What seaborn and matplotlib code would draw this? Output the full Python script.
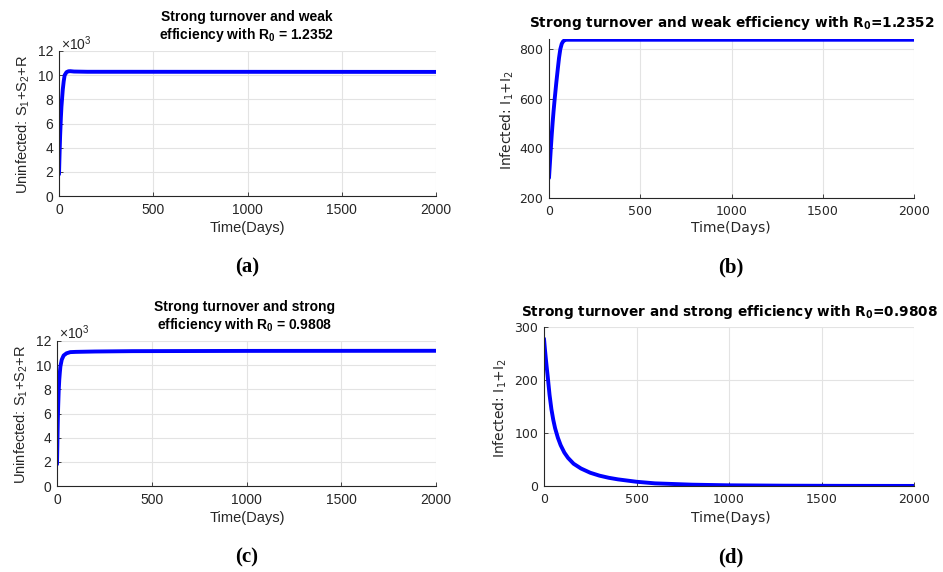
import numpy as np
import pandas as pd
import matplotlib
matplotlib.use("Agg")
import matplotlib.pyplot as plt
from matplotlib.ticker import FuncFormatter
import seaborn as sns

# Simulated trajectories (time in days)
t_a = [0, 3, 6, 10, 13, 16, 20, 25, 30, 40, 50, 60, 80, 150, 2000]
uninf_a = [1800, 3500, 5000, 6500, 7400, 8000, 8800, 9500, 10000, 10250, 10320, 10330, 10300, 10280, 10270]

t_b = [0, 5, 10, 15, 20, 25, 31, 40, 49, 55, 62, 70, 77, 85, 95, 2000]
inf_b = [281, 340, 400, 455, 505, 550, 598, 665, 726, 765, 800, 822, 831, 836, 838, 838]

t_c = [0, 2, 4, 6, 9, 12, 15, 18, 25, 35, 50, 70, 100, 200, 400, 1000, 2000]
uninf_c = [1800, 3500, 5200, 6500, 7900, 8800, 9400, 9900, 10450, 10800, 10980, 11080, 11100, 11130, 11160, 11180, 11190]

t_d = [0, 5, 10, 15, 20, 30, 40, 50, 60, 75, 90, 110, 130, 160, 200, 250, 300, 350, 400, 500, 600,
       800, 1000, 1300, 1600, 2000]
inf_d = [278, 258, 240, 223, 207, 172, 145, 125, 109, 91, 77, 63, 53, 42, 33, 25, 19.5, 15.5, 12.5, 8, 5,
         2.5, 1.3, 0.6, 0.3, 0.15]

x_ticks = [0, 500, 1000, 1500, 2000]
uninf_ticks = [0, 2000, 4000, 6000, 8000, 10000, 12000]
inf_ticks_b = [200, 400, 600, 800]
inf_ticks_d = [0, 100, 200, 300]

sns.set_theme(style="white")
plt.rcParams["mathtext.fontset"] = "custom"
plt.rcParams["mathtext.rm"] = "Liberation Sans"
plt.rcParams["mathtext.it"] = "Liberation Sans"
plt.rcParams["mathtext.bf"] = "Liberation Sans:bold"

W, H = 943, 572
fig = plt.figure(figsize=(W / 100, H / 100), dpi=100)
fig.patch.set_facecolor("white")

TXT = "#262626"
GRID = "#e3e3e3"


def add_axes_px(left, right, top, bottom):
    return fig.add_axes([left / W, 1 - bottom / H, (right - left) / W, (bottom - top) / H])


def style_axes(ax, family, size):
    ax.set_facecolor("white")
    ax.grid(True, color=GRID, linewidth=0.8)
    for s in ["top", "right"]:
        ax.spines[s].set_visible(False)
    for s in ["left", "bottom"]:
        ax.spines[s].set_color(TXT)
        ax.spines[s].set_linewidth(0.8)
    ax.tick_params(direction="in", length=3, width=0.6, colors=TXT, labelsize=size, pad=4,
                   left=True, bottom=True)
    ax.tick_params(axis="x", pad=5)
    for lab in ax.get_xticklabels() + ax.get_yticklabels():
        lab.set_family(family)
        lab.set_color(TXT)
    ax.set_xlabel("")
    ax.set_ylabel("")


def draw(ax, t, y):
    df = pd.DataFrame({"t": t, "y": y})
    sns.lineplot(data=df, x="t", y="y", ax=ax, color="#0000ff", linewidth=2.8)
    ax.set_xlim(0, 2000)
    ax.set_xticks(x_ticks)


thousands = FuncFormatter(lambda v, p: f"{v / 1000:g}")

# (a)
ax_a = add_axes_px(59, 436, 51, 196)
draw(ax_a, t_a, uninf_a)
ax_a.set_ylim(0, 12000)
ax_a.set_yticks(uninf_ticks)
ax_a.yaxis.set_major_formatter(thousands)
style_axes(ax_a, "Liberation Sans", 10)

# (b)
ax_b = add_axes_px(549, 914, 39, 198)
draw(ax_b, t_b, inf_b)
ax_b.set_ylim(200, 841)
ax_b.set_yticks(inf_ticks_b)
style_axes(ax_b, "DejaVu Sans", 9)

# (c)
ax_c = add_axes_px(57, 436, 341, 486)
draw(ax_c, t_c, uninf_c)
ax_c.set_ylim(0, 12000)
ax_c.set_yticks(uninf_ticks)
ax_c.yaxis.set_major_formatter(thousands)
style_axes(ax_c, "Liberation Sans", 10)

# (d)
ax_d = add_axes_px(544, 914, 327, 486)
draw(ax_d, t_d, inf_d)
ax_d.set_ylim(0, 300)
ax_d.set_yticks(inf_ticks_d)
style_axes(ax_d, "DejaVu Sans", 9)


def ftext(x, y, s, **kw):
    fig.text(x / W, 1 - y / H, s, ha=kw.pop("ha", "center"), va=kw.pop("va", "center"), **kw)


lib = dict(family="Liberation Sans", color=TXT)
dej = dict(family="DejaVu Sans", color=TXT)

# titles
ftext(247, 17, "Strong turnover and weak", fontsize=10, fontweight="bold", family="Liberation Sans", color="black")
ftext(247, 35, r"efficiency with R$_\mathbf{0}$ = 1.2352", fontsize=10, fontweight="bold",
      family="Liberation Sans", color="black", math_fontfamily="custom")
ftext(732, 23, r"Strong turnover and weak efficiency with R$_\mathbf{0}$=1.2352", fontsize=9.8,
      fontweight="bold", family="DejaVu Sans", color="black", math_fontfamily="dejavusans")
ftext(245, 307, "Strong turnover and strong", fontsize=10, fontweight="bold", family="Liberation Sans", color="black")
ftext(245, 325, r"efficiency with R$_\mathbf{0}$ = 0.9808", fontsize=10, fontweight="bold",
      family="Liberation Sans", color="black", math_fontfamily="custom")
ftext(729, 312, r"Strong turnover and strong efficiency with R$_\mathbf{0}$=0.9808", fontsize=9.8,
      fontweight="bold", family="DejaVu Sans", color="black", math_fontfamily="dejavusans")

# exponent labels
ftext(61, 44, r"$\times$10$^3$", fontsize=10, ha="left", math_fontfamily="custom", **lib)
ftext(59, 333, r"$\times$10$^3$", fontsize=10, ha="left", math_fontfamily="custom", **lib)

# axis labels
ftext(247, 228, "Time(Days)", fontsize=10.5, **lib)
ftext(731, 228, "Time(Days)", fontsize=10, **dej)
ftext(247, 518, "Time(Days)", fontsize=10.5, **lib)
ftext(731, 518, "Time(Days)", fontsize=10, **dej)

ftext(23, 124, r"Uninfected: S$_1$+S$_2$+R", fontsize=10.5, rotation=90, math_fontfamily="custom", **lib)
ftext(507, 120, r"Infected: I$_1$+I$_2$", fontsize=10, rotation=90, math_fontfamily="dejavusans", **dej)
ftext(21, 414, r"Uninfected: S$_1$+S$_2$+R", fontsize=10.5, rotation=90, math_fontfamily="custom", **lib)
ftext(500, 408, r"Infected: I$_1$+I$_2$", fontsize=10, rotation=90, math_fontfamily="dejavusans", **dej)

# panel letters
for x, y, s in [(247, 267, "(a)"), (731, 267, "(b)"), (247, 557, "(c)"), (731, 557, "(d)")]:
    ftext(x, y, s, fontsize=15, fontweight="bold", family="Liberation Serif", color="black")

fig.savefig("out.png", dpi=100)
